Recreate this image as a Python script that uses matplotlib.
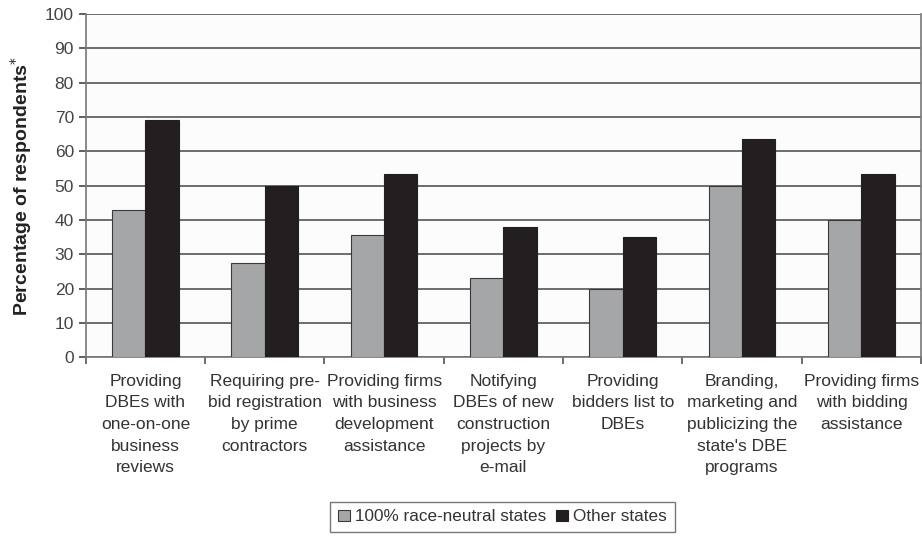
import numpy as np
import matplotlib.pyplot as plt

plt.rcParams['font.family'] = ['Liberation Sans', 'DejaVu Sans']

categories = [
    "Providing\nDBEs with\none-on-one\nbusiness\nreviews",
    "Requiring pre-\nbid registration\nby prime\ncontractors",
    "Providing firms\nwith business\ndevelopment\nassistance",
    "Notifying\nDBEs of new\nconstruction\nprojects by\ne-mail",
    "Providing\nbidders list to\nDBEs",
    "Branding,\nmarketing and\npublicizing the\nstate's DBE\nprograms",
    "Providing firms\nwith bidding\nassistance",
]
race_neutral = [43, 27.5, 35.5, 23, 20, 50, 40]
other_states = [69, 50, 53.5, 38, 35, 63.5, 53.5]

x = np.arange(len(categories))
w = 0.28

fig = plt.figure(figsize=(9.22, 5.38), dpi=100)
ax = fig.add_axes([0.093, 0.336, 0.906, 0.638])
ax.set_facecolor('#fcfcfc')

ax.bar(x - w / 2, race_neutral, w, color='#a5a6a8', edgecolor='#3a3a3a',
       linewidth=0.8, label='100% race-neutral states', zorder=3)
ax.bar(x + w / 2, other_states, w, color='#231f20', edgecolor='#231f20',
       linewidth=0.8, label='Other states', zorder=3)

ax.set_ylim(0, 100)
ax.set_xlim(-0.5, len(categories) - 0.5)
ax.set_yticks(range(0, 101, 10))
ax.yaxis.grid(True, color='#555555', linewidth=1.2, zorder=0)
ax.tick_params(axis='y', labelsize=12.5, colors='#444444', length=5, width=1.2)

ax.set_xticks(np.arange(-0.5, len(categories), 1))
ax.set_xticklabels([])
ax.tick_params(axis='x', which='major', length=5, width=1.2, colors='#555555')
ax.set_xticks(x, minor=True)
ax.set_xticklabels(categories, minor=True, fontsize=12.5, color='#333333',
                   linespacing=1.55)
ax.tick_params(axis='x', which='minor', length=0, pad=12)

for s in ['left', 'right', 'bottom']:
    ax.spines[s].set_color('#777777')
    ax.spines[s].set_linewidth(1.2)
ax.spines['top'].set_visible(False)

ax.set_ylabel('Percentage of respondents$^{*}$', fontsize=14,
              fontweight='bold', color='#222222', labelpad=8)

leg = fig.legend(loc='lower center', bbox_to_anchor=(0.545, -0.005), ncol=2,
                 fontsize=12.3, frameon=True, fancybox=False, handlelength=0.7,
                 handleheight=0.7, handletextpad=0.3, columnspacing=0.6,
                 borderpad=0.45, labelcolor='#333333')
leg.get_frame().set_edgecolor('#555555')
leg.get_frame().set_linewidth(1.0)

fig.savefig('out.png', dpi=100)
